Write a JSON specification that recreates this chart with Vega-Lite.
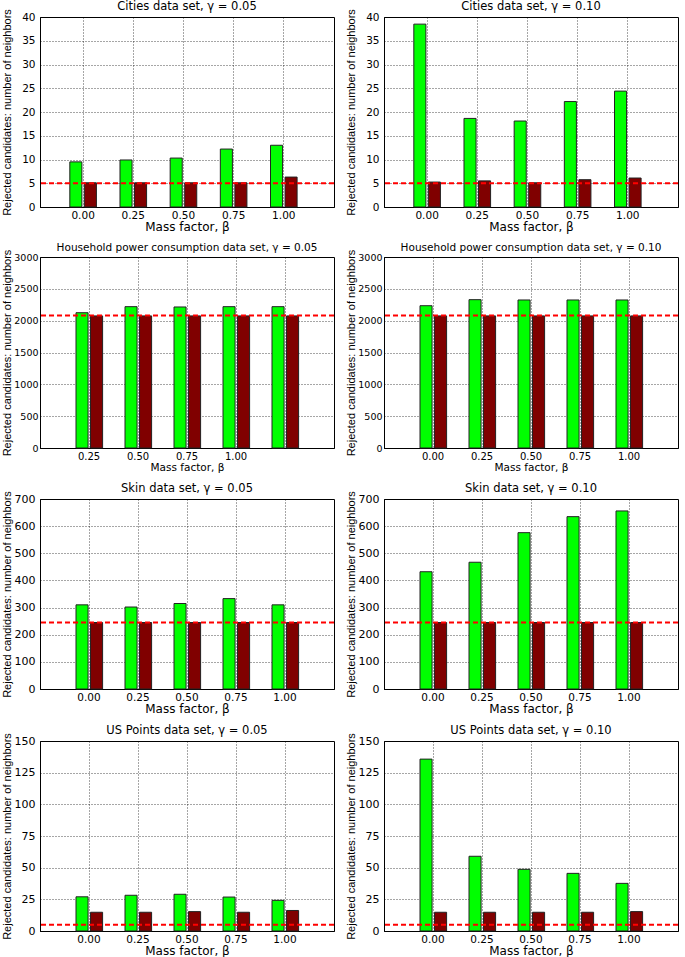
{
  "$schema": "https://vega.github.io/schema/vega-lite/v6.json",
  "background": "white",
  "padding": {"left": 0, "top": 0, "right": 0, "bottom": 0},
  "spacing": 9,
  "datasets": {
    "bars": [
      {"p": "c05", "beta": "0.00", "s": "a", "v": 9.5}, {"p": "c05", "beta": "0.25", "s": "a", "v": 9.9}, {"p": "c05", "beta": "0.50", "s": "a", "v": 10.3}, {"p": "c05", "beta": "0.75", "s": "a", "v": 12.2}, {"p": "c05", "beta": "1.00", "s": "a", "v": 13.0},
      {"p": "c05", "beta": "0.00", "s": "b", "v": 5.1}, {"p": "c05", "beta": "0.25", "s": "b", "v": 5.1}, {"p": "c05", "beta": "0.50", "s": "b", "v": 5.1}, {"p": "c05", "beta": "0.75", "s": "b", "v": 5.1}, {"p": "c05", "beta": "1.00", "s": "b", "v": 6.3},
      {"p": "c10", "beta": "0.00", "s": "a", "v": 38.5}, {"p": "c10", "beta": "0.25", "s": "a", "v": 18.65}, {"p": "c10", "beta": "0.50", "s": "a", "v": 18.1}, {"p": "c10", "beta": "0.75", "s": "a", "v": 22.2}, {"p": "c10", "beta": "1.00", "s": "a", "v": 24.4},
      {"p": "c10", "beta": "0.00", "s": "b", "v": 5.25}, {"p": "c10", "beta": "0.25", "s": "b", "v": 5.5}, {"p": "c10", "beta": "0.50", "s": "b", "v": 5.1}, {"p": "c10", "beta": "0.75", "s": "b", "v": 5.75}, {"p": "c10", "beta": "1.00", "s": "b", "v": 6.1},
      {"p": "h05", "beta": "0.00", "s": "a", "v": 2125}, {"p": "h05", "beta": "0.25", "s": "a", "v": 2220}, {"p": "h05", "beta": "0.50", "s": "a", "v": 2215}, {"p": "h05", "beta": "0.75", "s": "a", "v": 2220}, {"p": "h05", "beta": "1.00", "s": "a", "v": 2220},
      {"p": "h05", "beta": "0.00", "s": "b", "v": 2075}, {"p": "h05", "beta": "0.25", "s": "b", "v": 2075}, {"p": "h05", "beta": "0.50", "s": "b", "v": 2075}, {"p": "h05", "beta": "0.75", "s": "b", "v": 2075}, {"p": "h05", "beta": "1.00", "s": "b", "v": 2075},
      {"p": "h10", "beta": "0.00", "s": "a", "v": 2235}, {"p": "h10", "beta": "0.25", "s": "a", "v": 2330}, {"p": "h10", "beta": "0.50", "s": "a", "v": 2325}, {"p": "h10", "beta": "0.75", "s": "a", "v": 2325}, {"p": "h10", "beta": "1.00", "s": "a", "v": 2325},
      {"p": "h10", "beta": "0.00", "s": "b", "v": 2075}, {"p": "h10", "beta": "0.25", "s": "b", "v": 2075}, {"p": "h10", "beta": "0.50", "s": "b", "v": 2075}, {"p": "h10", "beta": "0.75", "s": "b", "v": 2075}, {"p": "h10", "beta": "1.00", "s": "b", "v": 2075},
      {"p": "s05", "beta": "0.00", "s": "a", "v": 310}, {"p": "s05", "beta": "0.25", "s": "a", "v": 302}, {"p": "s05", "beta": "0.50", "s": "a", "v": 315}, {"p": "s05", "beta": "0.75", "s": "a", "v": 333}, {"p": "s05", "beta": "1.00", "s": "a", "v": 310},
      {"p": "s05", "beta": "0.00", "s": "b", "v": 245}, {"p": "s05", "beta": "0.25", "s": "b", "v": 245}, {"p": "s05", "beta": "0.50", "s": "b", "v": 245}, {"p": "s05", "beta": "0.75", "s": "b", "v": 245}, {"p": "s05", "beta": "1.00", "s": "b", "v": 245},
      {"p": "s10", "beta": "0.00", "s": "a", "v": 432}, {"p": "s10", "beta": "0.25", "s": "a", "v": 467}, {"p": "s10", "beta": "0.50", "s": "a", "v": 576}, {"p": "s10", "beta": "0.75", "s": "a", "v": 635}, {"p": "s10", "beta": "1.00", "s": "a", "v": 656},
      {"p": "s10", "beta": "0.00", "s": "b", "v": 245}, {"p": "s10", "beta": "0.25", "s": "b", "v": 245}, {"p": "s10", "beta": "0.50", "s": "b", "v": 245}, {"p": "s10", "beta": "0.75", "s": "b", "v": 245}, {"p": "s10", "beta": "1.00", "s": "b", "v": 245},
      {"p": "u05", "beta": "0.00", "s": "a", "v": 27}, {"p": "u05", "beta": "0.25", "s": "a", "v": 28.2}, {"p": "u05", "beta": "0.50", "s": "a", "v": 29}, {"p": "u05", "beta": "0.75", "s": "a", "v": 26.8}, {"p": "u05", "beta": "1.00", "s": "a", "v": 24.2},
      {"p": "u05", "beta": "0.00", "s": "b", "v": 14.8}, {"p": "u05", "beta": "0.25", "s": "b", "v": 14.8}, {"p": "u05", "beta": "0.50", "s": "b", "v": 15.3}, {"p": "u05", "beta": "0.75", "s": "b", "v": 14.8}, {"p": "u05", "beta": "1.00", "s": "b", "v": 16.2},
      {"p": "u10", "beta": "0.00", "s": "a", "v": 135.7}, {"p": "u10", "beta": "0.25", "s": "a", "v": 59}, {"p": "u10", "beta": "0.50", "s": "a", "v": 48.7}, {"p": "u10", "beta": "0.75", "s": "a", "v": 45.5}, {"p": "u10", "beta": "1.00", "s": "a", "v": 37.6},
      {"p": "u10", "beta": "0.00", "s": "b", "v": 14.8}, {"p": "u10", "beta": "0.25", "s": "b", "v": 14.8}, {"p": "u10", "beta": "0.50", "s": "b", "v": 14.8}, {"p": "u10", "beta": "0.75", "s": "b", "v": 14.8}, {"p": "u10", "beta": "1.00", "s": "b", "v": 15.3}
    ],
    "base": [
      {"p": "c05", "v": 5}, {"p": "c10", "v": 5}, {"p": "h05", "v": 2080}, {"p": "h10", "v": 2080},
      {"p": "s05", "v": 245}, {"p": "s10", "v": 245}, {"p": "u05", "v": 5}, {"p": "u10", "v": 5}
    ]
  },
  "config": {
    "view": {"stroke": "black", "strokeWidth": 1},
    "axis": {
      "grid": true, "gridColor": "#000", "gridDash": [1, 2], "gridOpacity": 0.7, "gridWidth": 1,
      "ticks": false, "domainColor": "#000", "labelColor": "#000", "titleColor": "#000",
      "labelFont": "DejaVu Sans", "labelFontSize": 10.5, "titleFontWeight": "normal", "labelOverlap": false
    },
    "axisX": {"labelAngle": 0, "labelPadding": 3, "titlePadding": 1, "titleFont": "DejaVu Sans", "titleFontSize": 12},
    "axisY": {"labelPadding": 5, "titleFont": "Liberation Sans", "titleFontSize": 11, "titleX": -28},
    "title": {"font": "DejaVu Sans", "fontSize": 11.5, "fontWeight": "normal", "color": "#000", "offset": -4},
    "bar": {"stroke": "#222", "strokeWidth": 1},
    "rule": {"color": "#ff0000", "strokeWidth": 2, "strokeDash": [5, 3]}
  },
  "vconcat": [
    {"spacing": 8, "hconcat": [
      {"width": 294, "height": 190, "title": "Cities data set, γ = 0.05",
       "encoding": {"y": {"field": "v", "type": "quantitative", "scale": {"domain": [0, 40]}, "axis": {"values": [0, 5, 10, 15, 20, 25, 30, 35, 40], "format": "d", "title": "Rejected candidates: number of neighbors"}}},
       "layer": [
         {"data": {"name": "bars"}, "transform": [{"filter": "datum.p == 'c05'"}], "mark": "bar",
          "encoding": {
            "x": {"field": "beta", "type": "ordinal", "scale": {"type": "band", "paddingInner": 0.47, "paddingOuter": 0.665, "align": 0.447}, "axis": {"title": "Mass factor, β"}},
            "xOffset": {"field": "s", "type": "nominal", "scale": {"paddingInner": 0.17}},
            "color": {"field": "s", "type": "nominal", "scale": {"domain": ["a", "b"], "range": ["#00ff00", "#800000"]}, "legend": null}}},
         {"data": {"name": "base"}, "transform": [{"filter": "datum.p == 'c05'"}], "mark": "rule", "encoding": {}}
       ]},
      {"width": 294, "height": 190, "title": "Cities data set, γ = 0.10",
       "encoding": {"y": {"field": "v", "type": "quantitative", "scale": {"domain": [0, 40]}, "axis": {"values": [0, 5, 10, 15, 20, 25, 30, 35, 40], "format": "d", "title": "Rejected candidates: number of neighbors"}}},
       "layer": [
         {"data": {"name": "bars"}, "transform": [{"filter": "datum.p == 'c10'"}], "mark": "bar",
          "encoding": {
            "x": {"field": "beta", "type": "ordinal", "scale": {"type": "band", "paddingInner": 0.47, "paddingOuter": 0.665, "align": 0.447}, "axis": {"title": "Mass factor, β"}},
            "xOffset": {"field": "s", "type": "nominal", "scale": {"paddingInner": 0.17}},
            "color": {"field": "s", "type": "nominal", "scale": {"domain": ["a", "b"], "range": ["#00ff00", "#800000"]}, "legend": null}}},
         {"data": {"name": "base"}, "transform": [{"filter": "datum.p == 'c10'"}], "mark": "rule", "encoding": {}}
       ]}
    ]},
    {"spacing": 8, "hconcat": [
      {"width": 294, "height": 191, "title": {"text": "Household power consumption data set, γ = 0.05", "fontSize": 10.5},
       "encoding": {"y": {"field": "v", "type": "quantitative", "scale": {"domain": [0, 3000]}, "axis": {"values": [0, 500, 1000, 1500, 2000, 2500, 3000], "format": "d", "labelFontSize": 9.5, "labelPadding": 2, "title": "Rejected candidates: number of neighbors"}}},
       "layer": [
         {"data": {"name": "bars"}, "transform": [{"filter": "datum.p == 'h05'"}], "mark": "bar",
          "encoding": {
            "x": {"field": "beta", "type": "ordinal", "scale": {"type": "band", "paddingInner": 0.47, "paddingOuter": 0.735},
                  "axis": {"title": "Mass factor, β", "labelFontSize": 10, "titleFontSize": 10.5, "labelExpr": "datum.value == '0.00' ? '0.25' : datum.value == '0.25' ? '0.50' : datum.value == '0.50' ? '0.75' : datum.value == '0.75' ? '1.00' : ''"}},
            "xOffset": {"field": "s", "type": "nominal", "scale": {"paddingInner": 0.17}},
            "color": {"field": "s", "type": "nominal", "scale": {"domain": ["a", "b"], "range": ["#00ff00", "#800000"]}, "legend": null}}},
         {"data": {"name": "base"}, "transform": [{"filter": "datum.p == 'h05'"}], "mark": "rule", "encoding": {}}
       ]},
      {"width": 294, "height": 191, "title": {"text": "Household power consumption data set, γ = 0.10", "fontSize": 10.5},
       "encoding": {"y": {"field": "v", "type": "quantitative", "scale": {"domain": [0, 3000]}, "axis": {"values": [0, 500, 1000, 1500, 2000, 2500, 3000], "format": "d", "labelFontSize": 9.5, "labelPadding": 2, "title": "Rejected candidates: number of neighbors"}}},
       "layer": [
         {"data": {"name": "bars"}, "transform": [{"filter": "datum.p == 'h10'"}], "mark": "bar",
          "encoding": {
            "x": {"field": "beta", "type": "ordinal", "scale": {"type": "band", "paddingInner": 0.47, "paddingOuter": 0.735}, "axis": {"title": "Mass factor, β", "labelFontSize": 10, "titleFontSize": 10.5}},
            "xOffset": {"field": "s", "type": "nominal", "scale": {"paddingInner": 0.17}},
            "color": {"field": "s", "type": "nominal", "scale": {"domain": ["a", "b"], "range": ["#00ff00", "#800000"]}, "legend": null}}},
         {"data": {"name": "base"}, "transform": [{"filter": "datum.p == 'h10'"}], "mark": "rule", "encoding": {}}
       ]}
    ]},
    {"spacing": 8, "hconcat": [
      {"width": 294, "height": 190, "title": "Skin data set, γ = 0.05",
       "encoding": {"y": {"field": "v", "type": "quantitative", "scale": {"domain": [0, 700]}, "axis": {"values": [0, 100, 200, 300, 400, 500, 600, 700], "format": "d", "labelFontSize": 11, "title": "Rejected candidates: number of neighbors"}}},
       "layer": [
         {"data": {"name": "bars"}, "transform": [{"filter": "datum.p == 's05'"}], "mark": "bar",
          "encoding": {
            "x": {"field": "beta", "type": "ordinal", "scale": {"type": "band", "paddingInner": 0.47, "paddingOuter": 0.735}, "axis": {"title": "Mass factor, β"}},
            "xOffset": {"field": "s", "type": "nominal", "scale": {"paddingInner": 0.17}},
            "color": {"field": "s", "type": "nominal", "scale": {"domain": ["a", "b"], "range": ["#00ff00", "#800000"]}, "legend": null}}},
         {"data": {"name": "base"}, "transform": [{"filter": "datum.p == 's05'"}], "mark": "rule", "encoding": {}}
       ]},
      {"width": 294, "height": 190, "title": "Skin data set, γ = 0.10",
       "encoding": {"y": {"field": "v", "type": "quantitative", "scale": {"domain": [0, 700]}, "axis": {"values": [0, 100, 200, 300, 400, 500, 600, 700], "format": "d", "labelFontSize": 11, "title": "Rejected candidates: number of neighbors"}}},
       "layer": [
         {"data": {"name": "bars"}, "transform": [{"filter": "datum.p == 's10'"}], "mark": "bar",
          "encoding": {
            "x": {"field": "beta", "type": "ordinal", "scale": {"type": "band", "paddingInner": 0.47, "paddingOuter": 0.735}, "axis": {"title": "Mass factor, β"}},
            "xOffset": {"field": "s", "type": "nominal", "scale": {"paddingInner": 0.17}},
            "color": {"field": "s", "type": "nominal", "scale": {"domain": ["a", "b"], "range": ["#00ff00", "#800000"]}, "legend": null}}},
         {"data": {"name": "base"}, "transform": [{"filter": "datum.p == 's10'"}], "mark": "rule", "encoding": {}}
       ]}
    ]},
    {"spacing": 8, "hconcat": [
      {"width": 294, "height": 190, "title": "US Points data set, γ = 0.05",
       "encoding": {"y": {"field": "v", "type": "quantitative", "scale": {"domain": [0, 150]}, "axis": {"values": [0, 25, 50, 75, 100, 125, 150], "format": "d", "labelFontSize": 11, "title": "Rejected candidates: number of neighbors"}}},
       "layer": [
         {"data": {"name": "bars"}, "transform": [{"filter": "datum.p == 'u05'"}], "mark": "bar",
          "encoding": {
            "x": {"field": "beta", "type": "ordinal", "scale": {"type": "band", "paddingInner": 0.47, "paddingOuter": 0.735}, "axis": {"title": "Mass factor, β"}},
            "xOffset": {"field": "s", "type": "nominal", "scale": {"paddingInner": 0.17}},
            "color": {"field": "s", "type": "nominal", "scale": {"domain": ["a", "b"], "range": ["#00ff00", "#800000"]}, "legend": null}}},
         {"data": {"name": "base"}, "transform": [{"filter": "datum.p == 'u05'"}], "mark": "rule", "encoding": {}}
       ]},
      {"width": 294, "height": 190, "title": "US Points data set, γ = 0.10",
       "encoding": {"y": {"field": "v", "type": "quantitative", "scale": {"domain": [0, 150]}, "axis": {"values": [0, 25, 50, 75, 100, 125, 150], "format": "d", "labelFontSize": 11, "title": "Rejected candidates: number of neighbors"}}},
       "layer": [
         {"data": {"name": "bars"}, "transform": [{"filter": "datum.p == 'u10'"}], "mark": "bar",
          "encoding": {
            "x": {"field": "beta", "type": "ordinal", "scale": {"type": "band", "paddingInner": 0.47, "paddingOuter": 0.735}, "axis": {"title": "Mass factor, β"}},
            "xOffset": {"field": "s", "type": "nominal", "scale": {"paddingInner": 0.17}},
            "color": {"field": "s", "type": "nominal", "scale": {"domain": ["a", "b"], "range": ["#00ff00", "#800000"]}, "legend": null}}},
         {"data": {"name": "base"}, "transform": [{"filter": "datum.p == 'u10'"}], "mark": "rule", "encoding": {}}
       ]}
    ]}
  ]
}
